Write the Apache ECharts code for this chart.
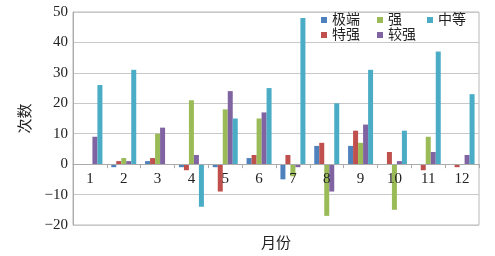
<!DOCTYPE html>
<html>
<head>
<meta charset="utf-8">
<script src="https://cdn.jsdelivr.net/npm/echarts@6/dist/echarts.min.js"></script>
<style>
    html, body { margin: 0; padding: 0; background: #fff; }
    #chart { width: 495px; height: 256px; }
</style>
</head>
<body>
<div id="chart"></div>
<script>
var months = ['1', '2', '3', '4', '5', '6', '7', '8', '9', '10', '11', '12'];
var jiduan = [0, -1, 1, -1, -1, 2, -5, 6, 6, 0, 0, 0];
var teqiang = [0, 1, 2, -2, -9, 3, 3, 7, 11, 4, -2, -1];
var qiang = [0, 2, 10, 21, 18, 15, -4, -17, 7, -15, 9, 0];
var jiaoqiang = [9, 1, 12, 3, 24, 17, -1, -9, 13, 1, 4, 3];
var zhongdeng = [26, 31, 0, -14, 15, 25, 48, 20, 31, 11, 37, 23];
var yTicks = [-20, -10, 0, 10, 20, 30, 40, 50];

var font = '"Liberation Serif", "Noto Sans CJK SC", serif';

// plot area
var gridTop = 12, gridBottom = 31, chartH = 256;
// distance from the bottom edge to the zero line, so the category axis sits on 0
var plotH = chartH - gridTop - gridBottom;
var zeroOffset = -plotH * (0 - yTicks[0]) / (yTicks[yTicks.length - 1] - yTicks[0]);

var chart = echarts.init(document.getElementById('chart'));

function legendAt(name, left, top) {
    return {
        data: [name],
        left: left,
        top: top,
        itemWidth: 6,
        itemHeight: 6,
        itemGap: 4,
        padding: 0,
        icon: 'rect',
        textStyle: {fontFamily: font, fontSize: 14, color: '#222'}
    };
}

function bar(name, color, data) {
    return {
        name: name,
        type: 'bar',
        barWidth: 5,
        barGap: '0%',
        itemStyle: {color: color},
        data: data
    };
}

var option = {
    animation: false,
    grid: {
        left: 73,
        right: 16,
        top: gridTop,
        bottom: gridBottom,
        containLabel: false,
        outerBoundsMode: 'none',
        show: true,
        borderColor: '#b8b8b8',
        borderWidth: 1
    },
    legend: [
        legendAt('极端', 321, 13),
        legendAt('强', 377, 13),
        legendAt('中等', 427, 13),
        legendAt('特强', 321, 28),
        legendAt('较强', 377, 28)
    ],
    xAxis: {
        type: 'category',
        data: months,
        position: 'bottom',
        offset: zeroOffset,
        z: 5,
        name: '月份',
        nameLocation: 'middle',
        nameGap: 72,
        nameTextStyle: {fontFamily: font, fontSize: 15, color: '#222'},
        axisLine: {onZero: false, lineStyle: {color: '#aaa'}},
        axisTick: {show: true, length: 4, lineStyle: {color: '#aaa'}},
        axisLabel: {fontFamily: font, fontSize: 15, color: '#222', margin: 7}
    },
    yAxis: {
        type: 'value',
        min: yTicks[0],
        max: yTicks[yTicks.length - 1],
        interval: 10,
        name: '次数',
        nameLocation: 'middle',
        nameGap: 28,
        nameTextStyle: {fontFamily: font, fontSize: 15, color: '#222'},
        axisLine: {show: true, lineStyle: {color: '#aaa'}},
        axisTick: {show: false},
        axisLabel: {
            fontFamily: font, fontSize: 15, color: '#222', margin: 5,
            formatter: function (v) { return v < 0 ? '\u2212' + Math.abs(v) : String(v); }
        },
        splitLine: {lineStyle: {color: '#c8c8c8'}}
    },
    series: [
        bar('极端', '#4f81bd', jiduan),
        bar('特强', '#c0504d', teqiang),
        bar('强', '#9bbb59', qiang),
        bar('较强', '#8064a2', jiaoqiang),
        bar('中等', '#4bacc6', zhongdeng)
    ]
};

chart.setOption(option);
</script>
</body>
</html>
